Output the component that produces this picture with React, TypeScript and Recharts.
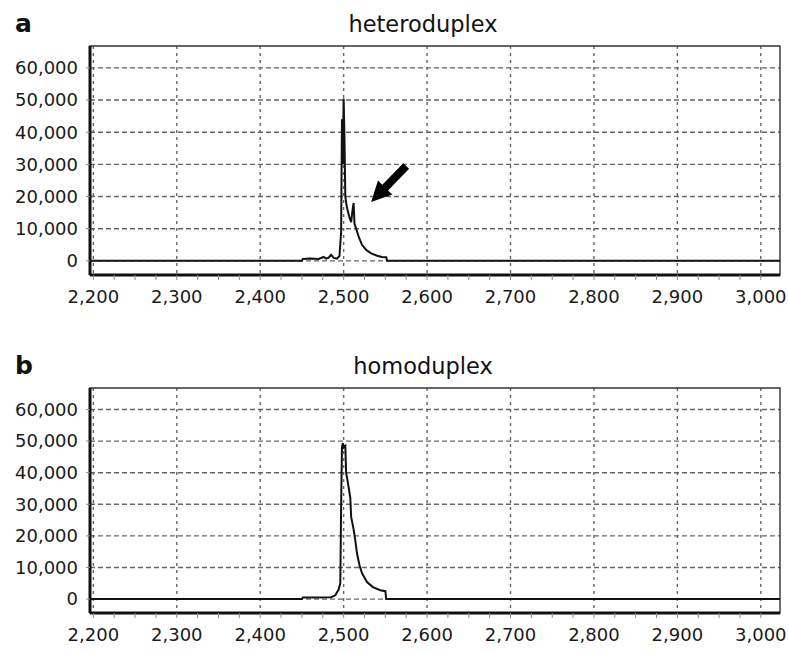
import { CartesianGrid, Line, LineChart, ReferenceArea, ReferenceDot, XAxis, YAxis } from 'recharts'

const FONT = '"DejaVu Sans", "Liberation Sans", sans-serif'

const X_MAJOR = [2200, 2300, 2400, 2500, 2600, 2700, 2800, 2900, 3000]
const X_TICKS = X_MAJOR.flatMap((v) => (v < 3000 ? [v, v + 25, v + 50, v + 75] : [v]))
const Y_TICKS = [0, 10000, 20000, 30000, 40000, 50000, 60000]
const X_DOMAIN = [2196, 3023]
const Y_DOMAIN = [-4400, 66800]

// heteroduplex trace
const HET_X = [2196, 2450, 2451, 2460, 2470, 2476, 2479, 2482, 2485, 2488, 2492, 2495, 2497, 2498, 2499, 2500, 2501, 2502, 2504, 2507, 2509, 2511, 2512, 2513, 2515, 2518, 2522, 2527, 2533, 2540, 2546, 2551, 2552, 3023]
const HET_Y = [0, 0, 600, 700, 600, 1200, 700, 1000, 1900, 900, 700, 1500, 9000, 44000, 30000, 50500, 38000, 20000, 16500, 13500, 12000, 16500, 18000, 11500, 10000, 7500, 5000, 3400, 2300, 1600, 1200, 1100, 0, 0]

// homoduplex trace
const HOM_X = [2196, 2450, 2451, 2470, 2485, 2490, 2494, 2496, 2497, 2498, 2499, 2500, 2502, 2503, 2505, 2508, 2509, 2512, 2514, 2516, 2519, 2522, 2528, 2535, 2544, 2550, 2551, 3023]
const HOM_Y = [0, 0, 500, 500, 600, 1200, 3000, 5000, 30000, 48000, 49300, 48000, 48500, 40000, 37000, 32000, 26000, 22000, 18500, 14500, 10700, 8200, 5400, 3800, 2800, 2500, 0, 0]

const ARROW_AT = { x: 2533, y: 18300 }

const fmt = (v: number) => v.toLocaleString('en-US')

function XTick({ x, y, payload }: any) {
  if (payload.value % 100 !== 0) return <g />
  return (
    <text x={x} y={y + 21} textAnchor="middle" fontSize={18} fill="#1a1a1a" fontFamily={FONT}>
      {fmt(payload.value)}
    </text>
  )
}

function Arrow({ cx, cy }: any) {
  // tip at (cx, cy), pointing down-left
  const ux = 0.7, uy = -0.72
  const px = -uy, py = ux
  const head = 20, half = 10, shaft = 4, len = 50
  const bx = cx + ux * head, by = cy + uy * head
  const ex = cx + ux * len, ey = cy + uy * len
  const pts = [
    [cx, cy],
    [bx + px * half, by + py * half],
    [bx + px * shaft, by + py * shaft],
    [ex + px * shaft, ey + py * shaft],
    [ex - px * shaft, ey - py * shaft],
    [bx - px * shaft, by - py * shaft],
    [bx - px * half, by - py * half],
  ]
  return <polygon points={pts.map((p) => p.join(',')).join(' ')} fill="#000" />
}

function Panel({
  xs,
  ys,
  letter,
  title,
  height,
  top,
  bottom,
  arrow,
}: {
  xs: number[]
  ys: number[]
  letter: string
  title: string
  height: number
  top: number
  bottom: number
  arrow?: boolean
}) {
  const data = xs.map((x, i) => ({ x, y: ys[i] }))
  return (
    <div style={{ position: 'relative', width: 788, height }}>
      <LineChart width={788} height={height} data={data} margin={{ top, right: 8, bottom, left: 0 }}>
        <CartesianGrid horizontal={false} verticalValues={X_MAJOR} stroke="#666" strokeDasharray="3 4" strokeWidth={1.4} />
        <CartesianGrid vertical={false} horizontalValues={Y_TICKS} stroke="#666" strokeDasharray="5 3" strokeWidth={1.4} />
        <ReferenceArea
          x1={X_DOMAIN[0]}
          x2={X_DOMAIN[1]}
          y1={Y_DOMAIN[0]}
          y2={Y_DOMAIN[1]}
          fill="none"
          fillOpacity={0}
          stroke="#333"
          strokeWidth={1.4}
        />
        <XAxis
          dataKey="x"
          type="number"
          domain={X_DOMAIN}
          ticks={X_TICKS}
          interval={0}
          allowDataOverflow
          height={30}
          tickSize={5}
          tickLine={{ stroke: '#888' }}
          axisLine={{ stroke: '#111', strokeWidth: 3 }}
          tick={<XTick />}
        />
        <YAxis
          type="number"
          domain={Y_DOMAIN}
          ticks={Y_TICKS}
          interval={0}
          allowDataOverflow
          width={90}
          tickSize={4}
          tickMargin={8}
          tickFormatter={fmt}
          tickLine={{ stroke: '#888' }}
          axisLine={{ stroke: '#111', strokeWidth: 3 }}
          tick={{ fontSize: 18, fill: '#1a1a1a', fontFamily: FONT }}
        />
        <Line type="linear" dataKey="y" stroke="#111" strokeWidth={2} dot={false} isAnimationActive={false} />
        {arrow && <ReferenceDot x={ARROW_AT.x} y={ARROW_AT.y} shape={<Arrow />} ifOverflow="visible" />}
      </LineChart>
      <svg width={788} height={top} style={{ position: 'absolute', left: 0, top: 0, pointerEvents: 'none' }}>
        <text x={15} y={top - 14} fontSize={25} fontWeight="bold" fill="#111" fontFamily={FONT}>
          {letter}
        </text>
        <text x={423} y={top - 14} textAnchor="middle" fontSize={22.5} fill="#111" fontFamily={FONT}>
          {title}
        </text>
      </svg>
    </div>
  )
}

export default function App() {
  return (
    <div style={{ position: 'absolute', left: 0, top: 0, width: 788, height: 654, background: '#fff' }}>
      <Panel xs={HET_X} ys={HET_Y} letter="a" title="heteroduplex" height={327} top={46} bottom={22} arrow />
      <Panel xs={HOM_X} ys={HOM_Y} letter="b" title="homoduplex" height={327} top={61} bottom={11} />
    </div>
  )
}
